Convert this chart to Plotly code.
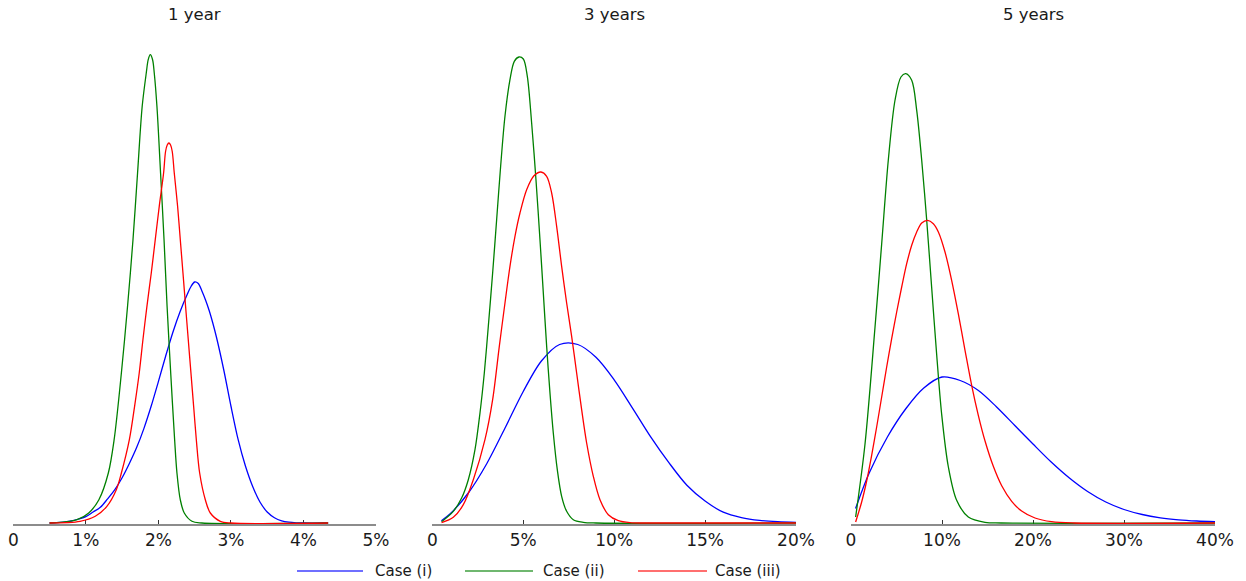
import plotly.graph_objects as go

# ---------------- data (x in %, y = relative density) ----------------
PANEL_TITLES = ["1 year", "3 years", "5 years"]
CASE_NAMES = ["Case (i)", "Case (ii)", "Case (iii)"]
CASE_COLORS = ["#0000ff", "#008000", "#ff0000"]

X_RANGES = [[0, 5], [0, 20], [0, 40]]
TICK_VALS = [[0, 1, 2, 3, 4, 5], [0, 5, 10, 15, 20], [0, 10, 20, 30, 40]]
TICK_TEXT = [["0", "1%", "2%", "3%", "4%", "5%"],
             ["0", "5%", "10%", "15%", "20%"],
             ["0", "10%", "20%", "30%", "40%"]]

# 1 year
Y1_I_X = [0.5, 0.6, 0.7, 0.8, 0.9, 1.0, 1.1, 1.2, 1.3, 1.4, 1.5, 1.6, 1.7, 1.8, 1.9, 2.0,
          2.1, 2.2, 2.3, 2.4, 2.45, 2.5, 2.55, 2.6, 2.65, 2.7, 2.75, 2.8, 2.9, 3.0, 3.1, 3.2,
          3.3, 3.4, 3.5, 3.6, 3.7, 3.8, 3.9, 4.0, 4.34]
Y1_I_Y = [0, 0.3, 0.9, 2.0, 4.0, 6.4, 11, 15.7, 24.1, 33.3, 45.2, 59.5, 75.4, 94.4, 116.7, 141.4,
          166.8, 190.8, 211.5, 229, 236.5, 241, 239.5, 232, 223, 212.5, 200, 186, 153.5, 117,
          83.3, 57, 36.5, 21, 11, 5.3, 2.2, 0.8, 0.2, 0, 0]
Y1_II_X = [0.5, 0.78, 0.88, 1.04, 1.18, 1.31, 1.39, 1.49, 1.575, 1.65, 1.713, 1.777, 1.833,
           1.86, 1.888, 1.92, 1.943, 1.98, 2.03, 2.078, 2.12, 2.17, 2.224, 2.256, 2.302,
           2.357, 2.463, 2.6, 4.34]
Y1_II_Y = [0, 1.7, 3.3, 10, 23.3, 50, 83.3, 150, 216.7, 283.3, 350, 416.7, 450,
           463.3, 468.3, 463.3, 450, 416.7, 350, 283.3, 216.7, 150, 83.3, 50, 23.3,
           10, 1.7, 0, 0]
Y1_III_X = [0.5, 0.92, 1.13, 1.29, 1.42, 1.49, 1.60, 1.672, 1.736, 1.787, 1.842, 1.902, 1.957,
            2.012, 2.072, 2.099, 2.122, 2.145, 2.168, 2.191, 2.219, 2.265, 2.302, 2.339, 2.375,
            2.412, 2.449, 2.486, 2.523, 2.569, 2.647, 2.716, 2.854, 3.0, 4.34]
Y1_III_Y = [0, 1.7, 6.7, 16.7, 33.3, 50, 83.3, 116.7, 150, 183.3, 216.7, 250, 283.3,
            316.7, 350, 371.5, 378, 380, 378, 371.5, 350, 316.7, 283.3, 250, 216.7,
            183.3, 150, 116.7, 83.3, 50, 23.3, 10, 1.7, 0, 0]

# 3 years
Y3_I_X = [0.5, 1, 2, 3, 4, 5, 6, 7, 8, 9, 10, 11, 12, 13, 14, 15, 16, 17, 18, 19, 20]
Y3_I_Y = [2.3, 9.5, 30.5, 59.5, 95, 131.5, 162, 178.5, 178.5, 165.7, 143.2, 115.2, 86.4,
          60.6, 37.8, 22, 10.8, 5.4, 2.6, 1.3, 0.7]
Y3_II_X = [0.51, 1.155, 1.613, 1.98, 2.347, 2.622, 2.86, 3.08, 3.318, 3.538, 3.758, 3.996,
           4.271, 4.51, 4.766, 5.005, 5.225, 5.463, 5.701, 5.921, 6.105, 6.288, 6.471,
           6.654, 6.874, 7.113, 7.388, 7.755, 8.304, 9.0, 20.0]
Y3_II_Y = [1.3, 11.7, 25, 43.3, 73.3, 110, 150, 196.7, 250, 303.3, 356.7, 406.7,
           443.3, 461.7, 466, 464, 446.7, 400, 343.3, 283.3, 230, 176.7, 130,
           90, 53.3, 26.7, 11.7, 3.3, 0.7, 0, 0]
Y3_III_X = [0.51, 1.155, 1.705, 2.255, 2.896, 3.318, 3.685, 3.996, 4.271, 4.546, 4.821,
            5.188, 5.591, 5.976, 6.288, 6.563, 6.838, 7.113, 7.388, 7.663, 7.938, 8.213,
            8.488, 8.854, 9.221, 9.679, 10.229, 10.87, 12.0, 20.0]
Y3_III_Y = [0.3, 5.7, 18.3, 43.3, 83.3, 123.3, 176.7, 220, 256.7, 286.7, 310,
            333.3, 347.3, 351, 346.7, 330, 296.7, 256.7, 220, 186.7, 150, 113.3,
            80, 46.7, 23.3, 8.3, 2.3, 0.3, 0, 0]

# 5 years
Y5_I_X = [0.5, 2, 4, 6, 8, 10, 12, 14, 16, 18, 20, 22, 24, 26, 28, 30, 32, 34, 36, 38, 40]
Y5_I_Y = [14.5, 50, 86, 114, 135, 146, 142.5, 132.5, 116, 97.5, 79, 61, 45, 31.5, 21,
          13.5, 8.5, 5.2, 3.2, 2, 1.3]
Y5_II_X = [0.51, 1.54, 2.64, 3.37, 4.10, 4.84, 5.49, 6.01, 6.67, 7.22, 7.77, 8.32, 8.86,
           9.41, 9.96, 10.70, 11.61, 12.89, 14.73, 16.5, 40]
Y5_II_Y = [6, 79, 196, 279, 363, 423, 446, 449.3, 442.7, 412.7, 362.7, 302.7, 236,
           169, 109, 56, 22.7, 6, 0.7, 0, 0]
Y5_III_X = [0.51, 1.17, 1.72, 2.27, 2.82, 3.37, 3.92, 4.47, 5.02, 5.57, 6.12, 6.67, 7.22,
            7.77, 8.42, 9.05, 9.60, 10.33, 11.06, 11.79, 12.53, 13.26, 13.99, 14.73,
            15.64, 16.56, 17.66, 18.75, 20.22, 22.05, 24.5, 40]
Y5_III_Y = [1.0, 21, 42, 67.7, 96, 126, 156, 184.3, 211, 236, 259.3, 277.7, 291,
            300, 302.7, 299.3, 291, 271, 242.7, 209.3, 172.7, 137.7, 107.7, 82,
            56.7, 37.3, 21.7, 12, 5, 1.3, 0, 0]

PANELS = [
    [(Y1_I_X, Y1_I_Y), (Y1_II_X, Y1_II_Y), (Y1_III_X, Y1_III_Y)],
    [(Y3_I_X, Y3_I_Y), (Y3_II_X, Y3_II_Y), (Y3_III_X, Y3_III_Y)],
    [(Y5_I_X, Y5_I_Y), (Y5_II_X, Y5_II_Y), (Y5_III_X, Y5_III_Y)],
]

# ---------------- layout constants ----------------
W, H = 1246, 581
M_L, M_R, M_T, M_B = 10, 30, 30, 57
PLOT_W = W - M_L - M_R
PLOT_H = H - M_T - M_B
X_DOMAINS_PX = [(13.3, 376), (432.3, 796), (851, 1215)]
FONT = "DejaVu Sans"
TEXT_COLOR = "#1a1a1a"


def px_(x_px):
    """pixel column -> paper x"""
    return (x_px - M_L) / PLOT_W


def py(y_px):
    """pixel row -> paper y"""
    return (H - M_B - y_px) / PLOT_H


fig = go.Figure()
layout = dict(
    width=W, height=H, autosize=False,
    margin=dict(l=M_L, r=M_R, t=M_T, b=M_B, autoexpand=False),
    paper_bgcolor="white", plot_bgcolor="white",
    showlegend=False,
    font=dict(family=FONT, color=TEXT_COLOR),
)

annotations = []
shapes = []
for p, series in enumerate(PANELS):
    xa = "x" if p == 0 else f"x{p+1}"
    ya = "y" if p == 0 else f"y{p+1}"
    for c, (xs, ys) in enumerate(series):
        fig.add_trace(go.Scatter(
            x=xs, y=ys, mode="lines", name=CASE_NAMES[c],
            line=dict(color=CASE_COLORS[c], width=1.3, shape="spline", smoothing=0.9),
            xaxis=xa, yaxis=ya, hoverinfo="skip",
        ))
    d0, d1 = X_DOMAINS_PX[p]
    key = "" if p == 0 else str(p + 1)
    layout["xaxis" + key] = dict(
        domain=[px_(d0), px_(d1)], range=X_RANGES[p], anchor=ya,
        tickvals=TICK_VALS[p], ticktext=TICK_TEXT[p],
        showgrid=False, zeroline=False, showline=True,
        linecolor="#8c8c8c", linewidth=2,
        ticks="inside", ticklen=4, tickwidth=1.3, tickcolor="#333333",
        tickfont=dict(family=FONT, size=17, color=TEXT_COLOR),
        layer="below traces", fixedrange=True, automargin=False,
    )
    layout["yaxis" + key] = dict(
        domain=[0, 1], range=[-1, PLOT_H - 1], anchor=xa,
        visible=False, showgrid=False, zeroline=False, fixedrange=True,
    )
    annotations.append(dict(
        text=PANEL_TITLES[p], xref="paper", yref="paper",
        x=px_((d0 + d1) / 2), y=py(15), xanchor="center", yanchor="middle",
        showarrow=False, font=dict(family=FONT, size=16.5, color=TEXT_COLOR),
    ))

# legend drawn manually (long line samples as in the reference)
LEG_LINES_PX = [(297, 363), (465, 533), (638, 707)]
LEG_TEXT_PX = [373, 541, 713]
LEG_Y = 571
for c in range(3):
    x0, x1 = LEG_LINES_PX[c]
    shapes.append(dict(
        type="line", xref="paper", yref="paper",
        x0=px_(x0), x1=px_(x1), y0=py(LEG_Y), y1=py(LEG_Y),
        line=dict(color=CASE_COLORS[c], width=1.3), opacity=0.75,
    ))
    annotations.append(dict(
        text=CASE_NAMES[c], xref="paper", yref="paper",
        x=px_(LEG_TEXT_PX[c]), y=py(LEG_Y), xanchor="left", yanchor="middle",
        showarrow=False, font=dict(family=FONT, size=15, color=TEXT_COLOR),
    ))

layout["annotations"] = annotations
layout["shapes"] = shapes
fig.update_layout(**layout)
fig.write_html(
    "out.html",
    config={"responsive": False, "displayModeBar": False},
    post_script="document.body.style.margin='0';document.body.style.overflow='hidden';",
)
